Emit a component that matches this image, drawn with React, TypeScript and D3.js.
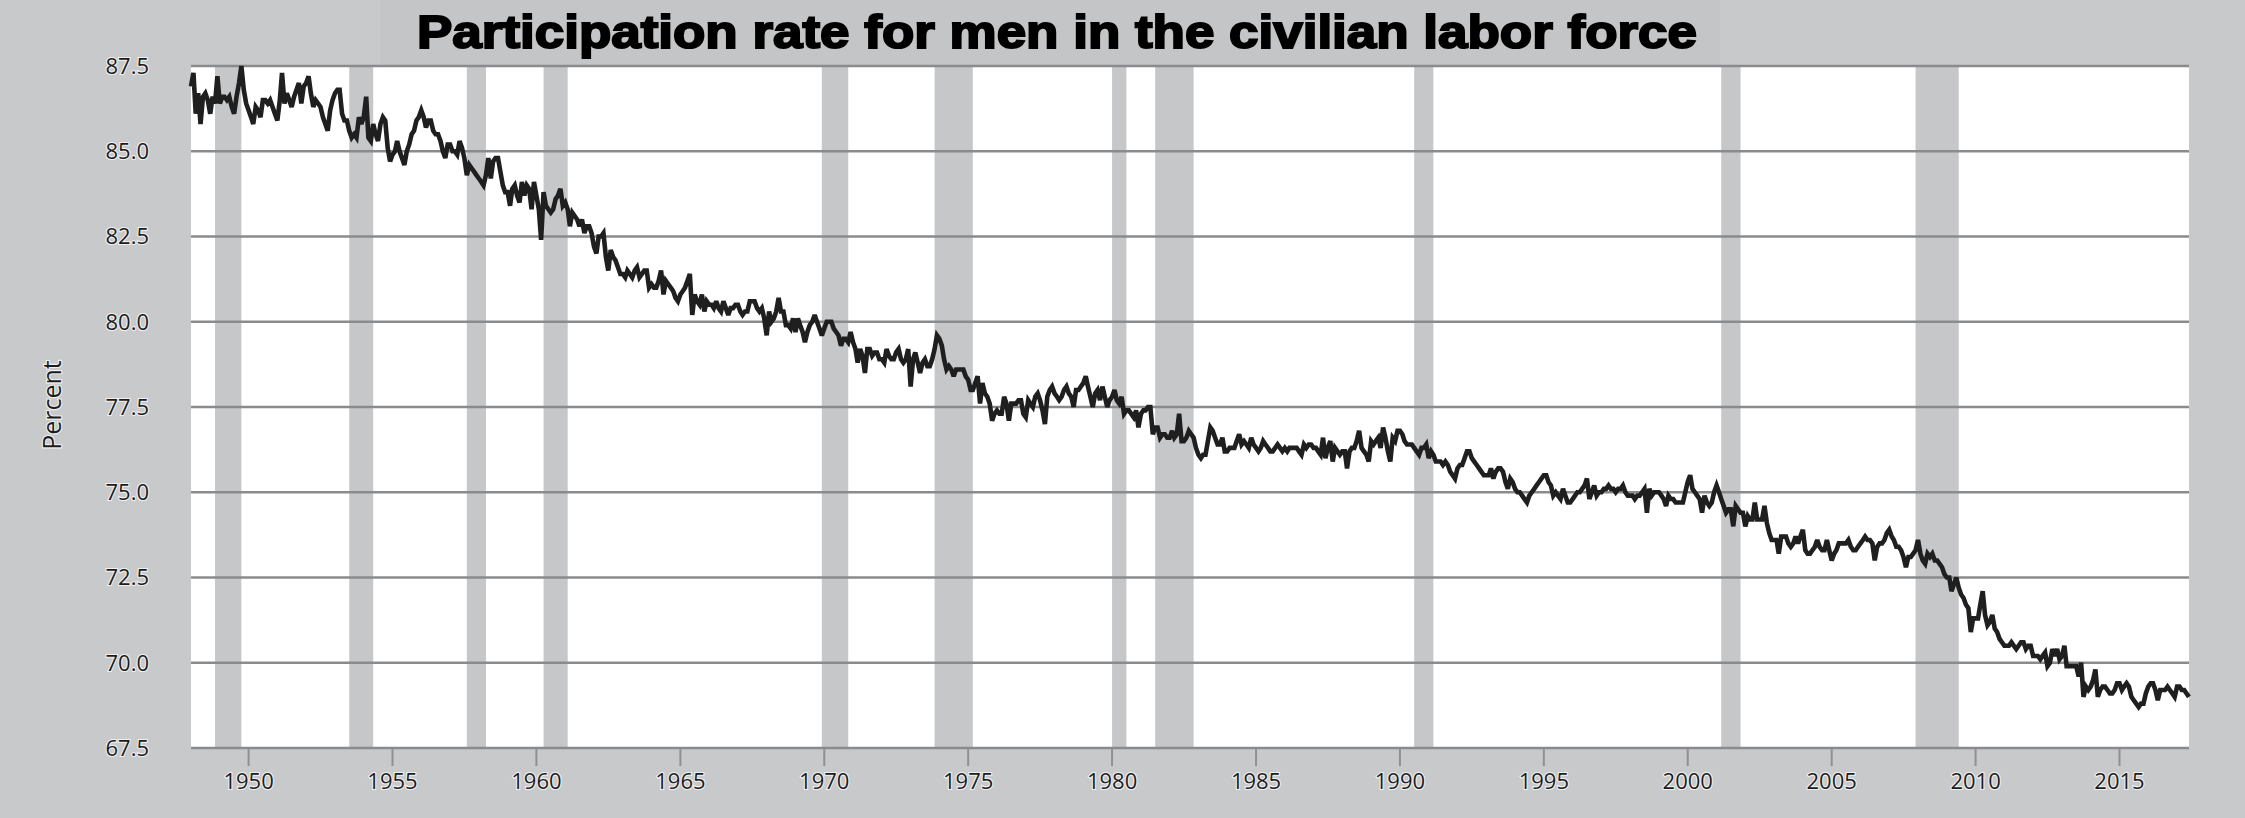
import { useEffect, useRef } from "react";
import * as d3 from "d3";

// monthly values, Jan 1948 onward
const rate1940s = [
  86.9, 87.3, 86.1, 86.7, 85.8, 86.6, 86.7, 86.5, 86.1, 86.6, 86.4, 87.2,
  86.4, 86.6, 86.6, 86.5, 86.6, 86.3, 86.1, 86.6, 87.0, 87.5, 86.8, 86.4,
];
const rate1950s = [
  86.2, 86.0, 85.8, 86.3, 86.2, 86.0, 86.5, 86.5, 86.4, 86.5, 86.3, 86.1,
  85.9, 86.5, 87.3, 86.4, 86.7, 86.5, 86.3, 86.6, 86.8, 87.0, 86.4, 86.9,
  87.0, 87.2, 86.7, 86.3, 86.5, 86.4, 86.3, 86.0, 85.8, 85.6, 86.2, 86.5,
  86.7, 86.8, 86.8, 86.1, 85.9, 85.9, 85.6, 85.4, 85.5, 85.4, 86.0, 85.8,
  86.0, 86.6, 85.4, 85.3, 85.8, 85.5, 85.3, 85.8, 86.0, 85.9, 85.1, 84.7,
  84.9, 85.0, 85.3, 85.0, 84.8, 84.6, 85.0, 85.2, 85.5, 85.6, 85.9, 86.0,
  86.2, 86.0, 85.7, 85.9, 85.9, 85.6, 85.5, 85.5, 85.3, 85.0, 84.8, 85.2,
  85.2, 85.0, 85.0, 84.9, 85.3, 85.1, 84.8, 84.3, 84.6, 84.5, 84.4, 84.3,
  84.2, 84.1, 84.0, 84.3, 84.8, 84.2, 84.7, 84.8, 84.8, 84.4, 84.0, 83.8,
  83.8, 83.4, 83.9, 84.0, 83.7, 83.5, 84.1, 83.7, 84.0, 83.9, 83.3, 84.1,
];
const rate1960s = [
  83.7, 83.3, 82.4, 83.8, 83.4, 83.3, 83.2, 83.3, 83.6, 83.7, 83.9, 83.4,
  83.5, 83.3, 82.8, 83.2, 83.1, 83.0, 82.8, 83.0, 82.6, 82.8, 82.8, 82.6,
  82.2, 82.0, 82.5, 82.5, 82.6, 81.9, 81.5, 82.1, 81.9, 81.8, 81.6, 81.4,
  81.4, 81.3, 81.5, 81.4, 81.3, 81.5, 81.6, 81.3, 81.4, 81.5, 81.5, 81.0,
  81.1, 81.0, 81.0, 81.2, 81.5, 80.8, 81.2, 81.1, 81.0, 80.9, 80.7, 80.6,
  80.8, 80.9, 81.0, 81.2, 81.4, 80.2, 80.8, 80.6, 80.5, 80.8, 80.3, 80.6,
  80.5, 80.5, 80.4, 80.6, 80.4, 80.3, 80.6, 80.4, 80.2, 80.4, 80.4, 80.5,
  80.5, 80.3, 80.2, 80.3, 80.3, 80.6, 80.6, 80.6, 80.4, 80.3, 80.4, 80.1,
  79.6, 80.3, 80.0, 80.1, 80.3, 80.7, 80.3, 80.3, 79.9, 79.9, 79.8, 80.1,
  79.7, 80.1, 79.9, 79.7, 79.4, 79.7, 79.9, 80.0, 80.2, 80.0, 79.8, 79.6,
];
const rate1970s = [
  79.8, 80.0, 80.0, 80.0, 79.8, 79.7, 79.6, 79.3, 79.5, 79.5, 79.4, 79.7,
  79.4, 79.2, 78.8, 79.2, 79.0, 78.5, 79.2, 79.2, 79.0, 79.1, 79.1, 78.9,
  78.9, 78.8, 79.2, 79.0, 78.9, 78.9, 79.1, 79.2, 78.9, 78.8, 78.9, 79.2,
  78.1, 78.9, 79.1, 78.8, 78.5, 78.8, 78.9, 78.7, 78.7, 78.9, 79.2, 79.6,
  79.5, 79.3, 78.9, 78.6, 78.7, 78.6, 78.4, 78.6, 78.6, 78.6, 78.6, 78.4,
  78.3, 78.0, 78.0, 78.2, 78.4, 77.6, 78.2, 77.9, 77.8, 77.6, 77.1, 77.3,
  77.4, 77.3, 77.3, 77.8, 77.6, 77.1, 77.6, 77.6, 77.6, 77.7, 77.7, 77.3,
  77.2, 77.7, 77.6, 77.5, 77.8, 77.9, 77.7, 77.4, 77.0, 77.8, 78.0, 78.1,
  77.9, 77.8, 77.7, 77.8, 78.0, 78.1, 77.9, 77.8, 77.5, 78.0, 78.0, 78.1,
  78.2, 78.4, 78.1, 77.8, 77.5, 77.9, 78.0, 77.7, 78.1, 77.8, 77.5, 77.7,
];
const rate1980s = [
  77.8, 78.0, 77.7, 77.6, 77.8, 77.3, 77.4, 77.4, 77.3, 77.2, 77.4, 76.9,
  77.3, 77.4, 77.4, 77.5, 77.5, 76.7, 76.9, 76.9, 76.6, 76.7, 76.7, 76.6,
  76.6, 76.8, 76.6, 76.7, 77.3, 76.5, 76.5, 76.6, 76.8, 76.7, 76.6, 76.3,
  76.1, 76.0, 76.1, 76.1, 76.5, 76.9, 76.8, 76.6, 76.4, 76.4, 76.6, 76.2,
  76.2, 76.3, 76.3, 76.3, 76.5, 76.7, 76.4, 76.5, 76.4, 76.3, 76.6, 76.4,
  76.3, 76.2, 76.3, 76.5, 76.4, 76.3, 76.2, 76.2, 76.3, 76.4, 76.3, 76.2,
  76.3, 76.2, 76.3, 76.3, 76.3, 76.3, 76.2, 76.1, 76.4, 76.3, 76.4, 76.4,
  76.3, 76.3, 76.2, 76.1, 76.6, 76.0, 76.3, 76.5, 75.9, 76.3, 76.2, 76.1,
  76.2, 76.2, 75.7, 76.2, 76.3, 76.3, 76.5, 76.8, 76.3, 76.2, 76.1, 75.9,
  76.5, 76.4, 76.5, 76.6, 76.3, 76.9, 76.6, 76.2, 75.9, 76.6, 76.5, 76.8,
];
const rate1990s = [
  76.8, 76.7, 76.5, 76.4, 76.4, 76.4, 76.3, 76.2, 76.1, 76.3, 76.3, 76.4,
  76.0, 76.2, 76.1, 75.9, 75.9, 75.9, 75.8, 75.9, 75.8, 75.6, 75.5, 75.4,
  75.7, 75.8, 75.8, 76.0, 76.2, 76.2, 76.0, 75.9, 75.8, 75.7, 75.6, 75.5,
  75.5, 75.5, 75.7, 75.4, 75.6, 75.7, 75.7, 75.6, 75.3, 75.1, 75.4, 75.3,
  75.1, 75.0, 75.0, 74.9, 74.8, 74.7, 74.9, 75.0, 75.1, 75.2, 75.3, 75.4,
  75.5, 75.5, 75.3, 75.2, 74.9, 75.0, 74.9, 74.8, 75.1, 74.9, 74.7, 74.7,
  74.8, 74.9, 75.0, 75.0, 75.1, 75.2, 75.4, 74.8, 75.0, 75.2, 74.9, 75.0,
  75.0, 75.1, 75.1, 75.2, 75.1, 75.1, 75.0, 75.1, 75.1, 75.2, 75.0, 74.9,
  74.9, 74.9, 74.8, 74.9, 74.9, 75.0, 75.1, 74.4, 75.1, 74.9, 75.0, 75.0,
  75.0, 74.9, 74.8, 74.6, 74.9, 74.8, 74.8, 74.7, 74.7, 74.7, 74.7, 75.0,
];
const rate2000s = [
  75.3, 75.5, 75.1, 75.0, 74.9, 74.8, 74.4, 74.9, 74.7, 74.6, 74.7, 75.0,
  75.2, 75.0, 74.8, 74.6, 74.4, 74.5, 74.5, 74.0, 74.6, 74.5, 74.4, 74.4,
  74.0, 74.3, 74.2, 74.2, 74.7, 74.2, 74.2, 74.2, 74.6, 74.1, 73.8, 73.6,
  73.6, 73.6, 73.2, 73.7, 73.7, 73.7, 73.5, 73.4, 73.5, 73.7, 73.5, 73.7,
  73.9, 73.3, 73.2, 73.2, 73.3, 73.4, 73.6, 73.4, 73.3, 73.3, 73.6, 73.3,
  73.0, 73.2, 73.3, 73.5, 73.5, 73.5, 73.5, 73.6, 73.4, 73.3, 73.3, 73.4,
  73.5, 73.6, 73.7, 73.6, 73.6, 73.5, 73.0, 73.4, 73.5, 73.5, 73.6, 73.8,
  73.9, 73.7, 73.6, 73.4, 73.4, 73.3, 73.1, 72.8, 73.1, 73.1, 73.2, 73.3,
  73.6, 73.2, 73.0, 72.9, 73.2, 73.1, 73.2, 73.0, 73.0, 72.9, 72.8, 72.6,
  72.5, 72.5, 72.1, 72.3, 72.5, 72.2, 72.0, 71.9, 71.7, 71.6, 70.9, 71.3,
];
const rate2010s = [
  71.3, 71.3, 71.7, 72.1, 71.4, 71.1, 71.2, 71.4, 71.0, 70.9, 70.7, 70.6,
  70.5, 70.5, 70.5, 70.6, 70.5, 70.4, 70.5, 70.6, 70.6, 70.4, 70.5, 70.5,
  70.2, 70.2, 70.2, 70.1, 70.2, 70.3, 69.9, 70.0, 70.4, 70.2, 70.4, 70.1,
  70.2, 70.5, 69.9, 69.9, 69.9, 69.9, 69.9, 69.6, 70.0, 69.0, 69.3, 69.2,
  69.3, 69.5, 69.8, 69.0, 69.2, 69.3, 69.3, 69.2, 69.1, 69.1, 69.2, 69.4,
  69.4, 69.2, 69.3, 69.4, 69.3, 69.0, 68.9, 68.8, 68.7, 68.8, 68.8, 69.1,
  69.3, 69.4, 69.4, 69.2, 68.9, 69.2, 69.2, 69.2, 69.3, 69.2, 69.1, 69.0,
  69.3, 69.3, 69.2, 69.2, 69.1, 69.0,
];

// NBER recessions: [start year, start month, end year, end month]
const recessions = [
  [1948, 11, 1949, 10],
  [1953, 7, 1954, 5],
  [1957, 8, 1958, 4],
  [1960, 4, 1961, 2],
  [1969, 12, 1970, 11],
  [1973, 11, 1975, 3],
  [1980, 1, 1980, 7],
  [1981, 7, 1982, 11],
  [1990, 7, 1991, 3],
  [2001, 3, 2001, 11],
  [2007, 12, 2009, 6],
];

const yTicks = [67.5, 70, 72.5, 75, 77.5, 80, 82.5, 85, 87.5];
const xTickYears = [1950, 1955, 1960, 1965, 1970, 1975, 1980, 1985, 1990, 1995, 2000, 2005, 2010, 2015];

const title = "Participation rate for men in the civilian labor force";
const yTitle = "Percent";

export default function App() {
  const ref = useRef<SVGSVGElement>(null);

  useEffect(() => {
    if (!ref.current) return;
    const svg = d3.select(ref.current);
    svg.selectAll("*").remove();

    const W = 2245;
    const H = 818;
    const left = 191;
    const right = 2189;
    const top = 66;
    const bottom = 748;

    const values = [
      ...rate1940s,
      ...rate1950s,
      ...rate1960s,
      ...rate1970s,
      ...rate1980s,
      ...rate1990s,
      ...rate2000s,
      ...rate2010s,
    ];
    const data = values.map((v, i) => ({ date: new Date(1948, i, 1), v }));

    const x = d3
      .scaleTime()
      .domain([data[0].date, data[data.length - 1].date])
      .range([left, right]);
    const y = d3.scaleLinear().domain([67.5, 87.5]).range([bottom, top]);

    svg.append("rect").attr("width", W).attr("height", H).attr("fill", "#c8c9cb");

    // title box
    svg
      .append("rect")
      .attr("x", 380)
      .attr("y", 0)
      .attr("width", 1340)
      .attr("height", top)
      .attr("fill", "#c4c5c7");

    svg
      .append("text")
      .attr("x", 1057)
      .attr("y", 48)
      .attr("text-anchor", "middle")
      .attr("textLength", 1280)
      .attr("lengthAdjust", "spacingAndGlyphs")
      .style("font-family", "'Liberation Sans', Arial, sans-serif")
      .style("font-weight", "bold")
      .style("font-size", "47px")
      .style("fill", "#000")
      .style("stroke", "#000")
      .style("stroke-width", 2)
      .text(title);

    // plot area
    svg
      .append("rect")
      .attr("x", left)
      .attr("y", top)
      .attr("width", right - left)
      .attr("height", bottom - top)
      .attr("fill", "#ffffff");

    svg
      .append("g")
      .selectAll("rect")
      .data(recessions)
      .enter()
      .append("rect")
      .attr("x", (d) => x(new Date(d[0], d[1] - 1, 1)))
      .attr("y", top)
      .attr("width", (d) => x(new Date(d[2], d[3] - 1, 1)) - x(new Date(d[0], d[1] - 1, 1)))
      .attr("height", bottom - top)
      .attr("fill", "#c6c7c9");

    // gridlines
    svg
      .append("g")
      .selectAll("line")
      .data(yTicks)
      .enter()
      .append("line")
      .attr("x1", left)
      .attr("x2", right)
      .attr("y1", (d) => y(d))
      .attr("y2", (d) => y(d))
      .attr("stroke", "#8a8b8d")
      .attr("stroke-width", 2.6);

    const labelStyle = (sel: any) =>
      sel
        .style("font-family", "'Open Sans', sans-serif")
        .style("font-size", "22px")
        .style("fill", "#1c1c1c")
        .style("stroke", "#ffffff")
        .style("stroke-width", 2.2)
        .style("stroke-opacity", 0.75)
        .style("paint-order", "stroke");

    svg
      .append("g")
      .selectAll("text")
      .data(yTicks)
      .enter()
      .append("text")
      .attr("x", 149)
      .attr("y", (d) => y(d))
      .attr("dy", "0.36em")
      .attr("text-anchor", "end")
      .call(labelStyle)
      .text((d) => d.toFixed(1));

    const xt = svg
      .append("g")
      .selectAll("g")
      .data(xTickYears)
      .enter()
      .append("g")
      .attr("transform", (d) => `translate(${x(new Date(d, 0, 1))},${bottom})`);
    xt.append("line")
      .attr("y1", 1)
      .attr("y2", 18)
      .attr("stroke", "#8f9092")
      .attr("stroke-width", 2);
    xt.append("text")
      .attr("y", 41)
      .attr("text-anchor", "middle")
      .call(labelStyle)
      .text((d) => d);

    svg
      .append("text")
      .attr("transform", `translate(61,405) rotate(-90)`)
      .attr("text-anchor", "middle")
      .call(labelStyle)
      .style("font-size", "25px")
      .text(yTitle);

    const line = d3
      .line<{ date: Date; v: number }>()
      .x((d) => x(d.date))
      .y((d) => y(d.v));

    svg
      .append("path")
      .datum(data)
      .attr("d", line)
      .attr("fill", "none")
      .attr("stroke", "#1f1f20")
      .attr("stroke-width", 4.6)
      .attr("stroke-linejoin", "miter")
      .attr("stroke-miterlimit", 3);
  }, []);

  return (
    <svg
      ref={ref}
      width={2245}
      height={818}
      viewBox="0 0 2245 818"
      style={{ position: "absolute", left: 0, top: 0, display: "block" }}
    />
  );
}
